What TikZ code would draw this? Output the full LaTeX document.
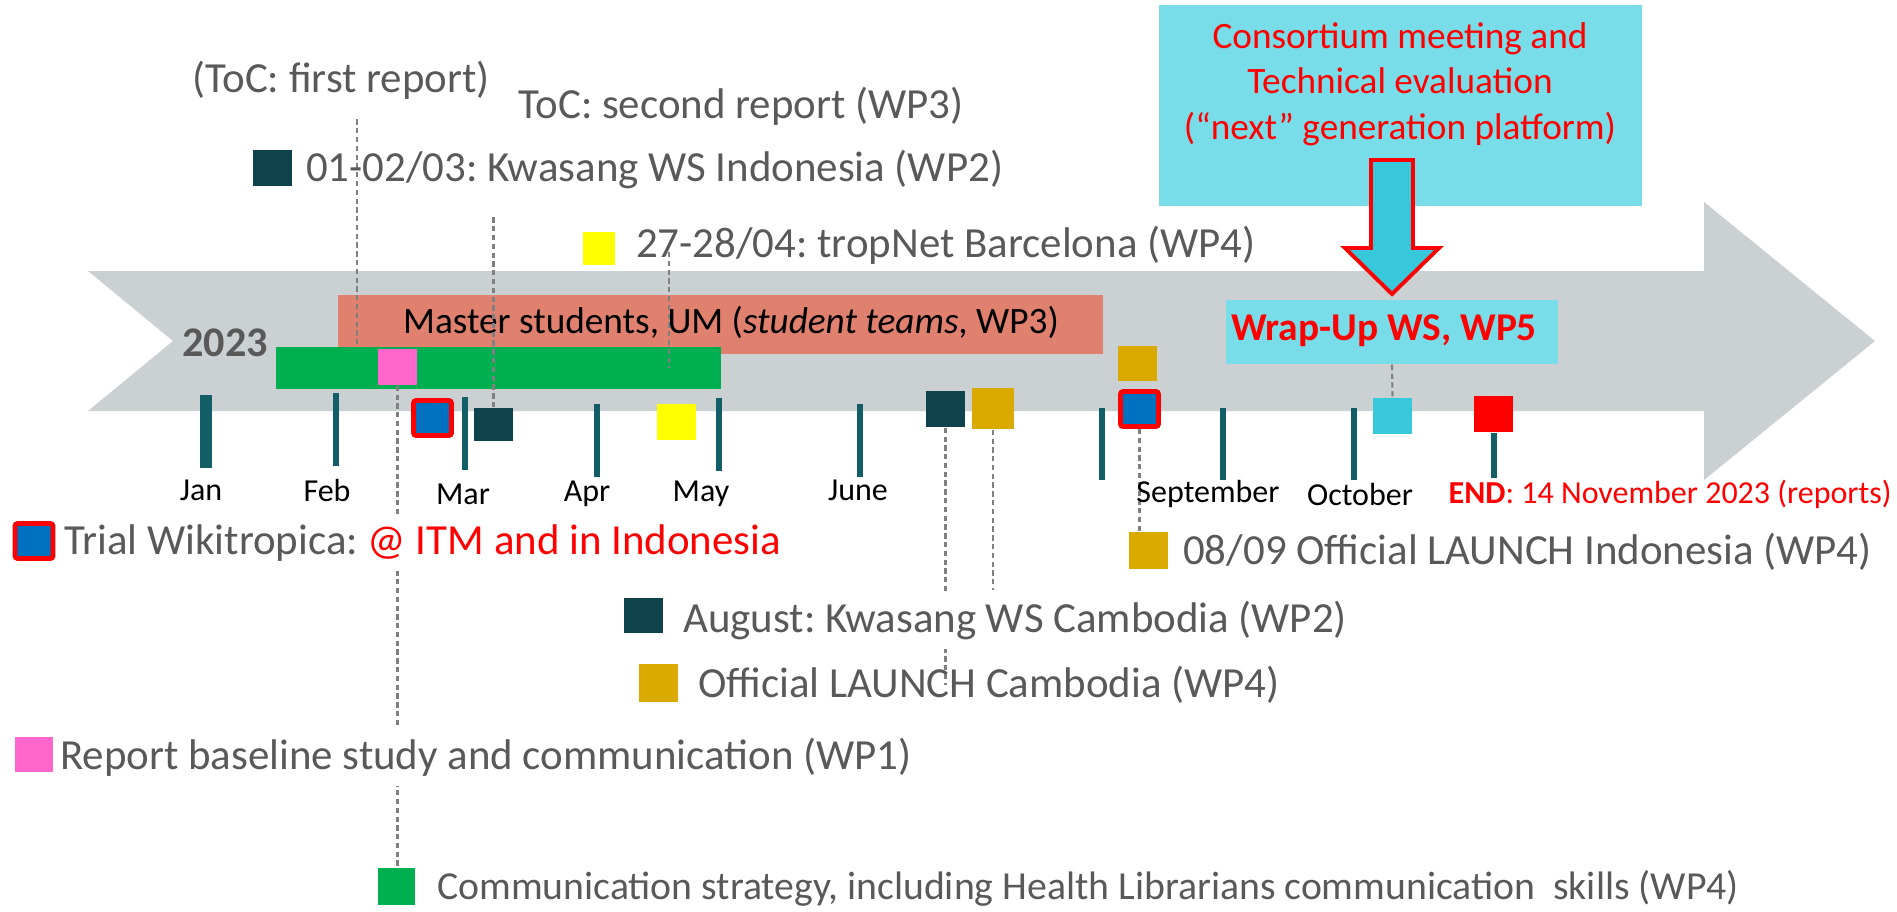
\documentclass[tikz,border=0pt]{standalone}
\usepackage{fontspec}
\setmainfont{Carlito}
\usepackage{tikz}
\usetikzlibrary{positioning,calc}
\definecolor{fleche}{RGB}{203,208,210}
\definecolor{saumon}{RGB}{224,128,111}
\definecolor{vert}{RGB}{0,176,80}
\definecolor{rose}{RGB}{255,102,204}
\definecolor{jaune}{RGB}{255,255,0}
\definecolor{orvieux}{RGB}{218,170,0}
\definecolor{bleu}{RGB}{0,112,192}
\definecolor{sombre}{RGB}{14,67,77}
\definecolor{trait}{RGB}{17,94,103}
\definecolor{cyanclair}{RGB}{120,221,232}
\definecolor{cyanfort}{RGB}{55,201,219}
\definecolor{gristexte}{RGB}{89,89,89}
\definecolor{tiretgris}{RGB}{128,128,128}
\pgfdeclarelayer{fond}
\pgfdeclarelayer{tirets}
\pgfsetlayers{fond,tirets,main}

\begin{document}
\frenchspacing
\begin{tikzpicture}[x=0.01cm, y=-0.01cm,
    carre/.style={inner sep=0pt, minimum width=0.39cm, minimum height=0.36cm},
    essai/.style={carre, fill=bleu, draw=red, line width=1.4pt, rounded corners=0.8pt, minimum width=0.38cm, minimum height=0.35cm},
    legende/.style={anchor=west, text=gristexte, font=\fontsize{12.2}{14}\selectfont, inner sep=1pt},
    cache/.style={fill=white, inner ysep=0.1cm},
    mois/.style={font=\fontsize{9.1}{10}\selectfont, inner sep=0pt},
    tiret/.style={draw=tiretgris, line width=0.6pt, dash pattern=on 1.5pt off 1pt},
    repere/.style={draw=trait, line width=1.7pt}]
    \useasboundingbox (0,0) rectangle (1897,911);

    % Grande fleche et barres
    \begin{pgfonlayer}{fond}
    \fill[fleche] (88,271) -- (1704,271) -- (1704,202) -- (1875,341) -- (1704,480)
        -- (1704,411) -- (88,411) -- (173,341) -- cycle;
    \node[fill=saumon, minimum width=7.65cm, minimum height=0.59cm, inner sep=0pt] (master) at (720.5,324.5) {};
    \node[font=\fontsize{10.6}{12}\selectfont] (mastertxt) at (731,322)
        {Master students, UM (\textit{student teams}, WP3)};
    \node[fill=vert, minimum width=4.45cm, minimum height=0.42cm, inner sep=0pt] (commbar) at (498.5,368) {};
    \end{pgfonlayer}
    \node[carre, fill=rose] (baseline) at (397.5,367) {};
    \node[text=gristexte, font=\fontsize{12}{14}\selectfont\bfseries] (annee) at (225,343) {2023};

    % Mois
    \draw[repere, line width=3.4pt] (206,395) -- (206,468);
    \foreach \x/\ya/\yb in {336/393/466, 465/397/470, 597/404/477, 719/398/471,
        860/404/477, 1102/408/480, 1223/408/480, 1354/408/480}
        \draw[repere] (\x,\ya) -- (\x,\yb);
    \foreach \nom/\x/\y in {Jan/201/490, Feb/327/490, Mar/463/494, Apr/587/494,
        May/701/494, June/858/490, September/1208/494, October/1360/494}
        \node[mois] (m-\nom) at (\x,\y) {\nom};
    \node[mois, anchor=west, text=red] (fin) at (1448,494) {\textbf{END}: 14 November 2023 (reports)};

    % Evenements sur la fleche
    \node[essai] (essaiMar) at (432.5,418) {};
    \node[carre, fill=sombre, minimum height=0.33cm] (kwaID) at (493.5,424.5) {};
    \node[carre, fill=jaune] (tropnet) at (676.5,422) {};
    \node[carre, fill=sombre] (kwaKH) at (945.5,409) {};
    \node[carre, fill=orvieux, minimum width=0.42cm, minimum height=0.41cm] (lanKH) at (993,408.5) {};
    \node[carre, fill=orvieux, minimum height=0.35cm] (lanID) at (1137.5,363.5) {};
    \node[essai] (essaiSep) at (1139.5,409) {};
    \node[carre, fill=cyanfort] (wrapsq) at (1392.5,416) {};
    \node[carre, fill=red] (finsq) at (1493.5,414) {};
    \draw[repere] (finsq.south) -- ++(0,45);

    % Consortium et Wrap-Up
    \node[fill=cyanclair, minimum width=4.83cm, minimum height=2.01cm, inner sep=0pt] (consortium) at (1400.5,105.5) {};
    \node[text=red, align=center, font=\fontsize{10.6}{12.9}\selectfont] (constxt) at (1400,84)
        {Consortium meeting and\\Technical evaluation\\(``next'' generation platform)};
    \filldraw[fill=cyanfort, draw=red, line width=1.1pt] (1371,160) -- (1413,160) -- (1413,248)
        -- (1439,248) -- (1392,294) -- (1345,248) -- (1371,248) -- cycle;
    \node[fill=cyanclair, minimum width=3.32cm, minimum height=0.64cm, inner sep=0pt] (wrapup) at (1392,332) {};
    \node[text=red, font=\fontsize{11.2}{13}\selectfont\bfseries] (wraptxt) at (1384,331) {Wrap-Up WS, WP5};

    % Legendes du haut
    \node[legende, anchor=center] (toc1) at (341,80) {(ToC: first report)};
    \node[legende, anchor=center] (toc2) at (741,106) {ToC: second report (WP3)};
    \node[carre, fill=sombre] (lgkwaID) at (272.5,167.5) {};
    \node[legende] (txkwaID) at (302,169) {01-02/03: Kwasang WS Indonesia (WP2)};
    \node[carre, fill=jaune, minimum width=0.32cm, minimum height=0.33cm] (lgtrop) at (599,248.5) {};
    \node[legende] (txtrop) at (632,245) {27-28/04: tropNet Barcelona (WP4)};

    % Legendes du bas
    \node[essai] (lgessai) at (34,541) {};
    \node[legende, cache] (txessai) at (60,543) {Trial Wikitropica: \textcolor{red}{@ ITM and in Indonesia}};
    \node[carre, fill=orvieux, minimum height=0.37cm] (lglanID) at (1148,550) {};
    \node[legende] (txlanID) at (1179,552) {08/09 Official LAUNCH Indonesia (WP4)};
    \node[carre, fill=sombre, minimum height=0.35cm] (lgkwaKH) at (643.5,615.5) {};
    \node[legende, cache] (txkwaKH) at (679,620) {August: Kwasang WS Cambodia (WP2)};
    \node[carre, fill=orvieux, minimum height=0.38cm] (lglanKH) at (658.5,683) {};
    \node[legende] (txlanKH) at (694,685) {Official LAUNCH Cambodia (WP4)};
    \node[carre, fill=rose, minimum width=0.38cm, minimum height=0.35cm] (lgbase) at (34,754.5) {};
    \node[legende, cache] (txbase) at (56,757) {Report baseline study and communication (WP1)};
    \node[carre, fill=vert, minimum width=0.37cm, minimum height=0.37cm] (lgcomm) at (396.5,886.5) {};
    \node[legende, font=\fontsize{11.3}{13}\selectfont] (txcomm) at (433,888)
        {Communication strategy, including Health Librarians communication\ \ skills (WP4)};

    % Lignes pointillees
    \begin{pgfonlayer}{tirets}
    \draw[tiret] ($(toc1.south)+(16,16)$) -- ++(0,226);
    \draw[tiret] (kwaID.north) -- ++(0,-190);
    \draw[tiret] ($(txtrop.west)+(37,7)$) -- ++(0,116);
    \draw[tiret] (baseline.south) -- (baseline.south |- lgcomm.north);
    \draw[tiret] (kwaKH.south) -- (kwaKH.south |- txlanKH.center);
    \draw[tiret] (lanKH.south) -- (lanKH.south |- txkwaKH.north);
    \draw[tiret] (essaiSep.south) -- (essaiSep.south |- lglanID.north);
    \draw[tiret] (wrapup.south) -- (wrapsq.north);
    \end{pgfonlayer}
\end{tikzpicture}
\end{document}
